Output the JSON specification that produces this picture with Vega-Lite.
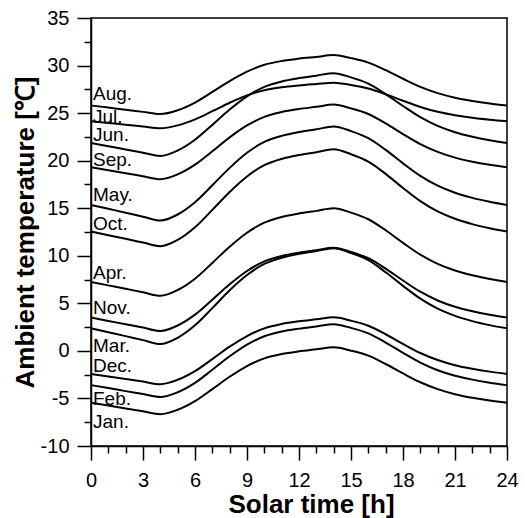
{
  "$schema": "https://vega.github.io/schema/vega-lite/v6.json",
  "width": 416,
  "height": 428,
  "autosize": {"type": "none"},
  "padding": {"left": 91, "top": 18, "right": 18, "bottom": 72},
  "background": "white",
  "config": {
    "view": {"stroke": "black", "strokeWidth": 1.5},
    "font": "Liberation Sans",
    "axis": {
      "grid": false,
      "domainColor": "black",
      "domainWidth": 1.5,
      "tickColor": "black",
      "tickWidth": 1.5,
      "labelColor": "black",
      "labelFont": "Liberation Sans",
      "labelFontSize": 20,
      "titleFont": "Liberation Sans",
      "titleColor": "black",
      "titleFontSize": 26,
      "titleFontWeight": "bold"
    }
  },
  "datasets": {
    "temps": [
      {"t": 0, "Aug": 25.8, "Jul": 24.15, "Jun": 21.85, "Sep": 19.3, "May": 15.35, "Oct": 12.55, "Apr": 7.25, "Nov": 3.5, "Mar": 2.37, "Dec": -2.42, "Feb": -3.6, "Jan": -5.45},
      {"t": 1, "Aug": 25.58, "Jul": 23.96, "Jun": 21.51, "Sep": 18.99, "May": 14.94, "Oct": 12.16, "Apr": 6.89, "Nov": 3.15, "Mar": 1.96, "Dec": -2.69, "Feb": -3.91, "Jan": -5.75},
      {"t": 2, "Aug": 25.35, "Jul": 23.78, "Jun": 21.18, "Sep": 18.68, "May": 14.53, "Oct": 11.78, "Apr": 6.53, "Nov": 2.8, "Mar": 1.55, "Dec": -2.96, "Feb": -4.23, "Jan": -6.05},
      {"t": 3, "Aug": 25.13, "Jul": 23.59, "Jun": 20.84, "Sep": 18.36, "May": 14.11, "Oct": 11.39, "Apr": 6.16, "Nov": 2.45, "Mar": 1.13, "Dec": -3.23, "Feb": -4.54, "Jan": -6.35},
      {"t": 4, "Aug": 24.9, "Jul": 23.4, "Jun": 20.5, "Sep": 18.05, "May": 13.7, "Oct": 11.0, "Apr": 5.8, "Nov": 2.1, "Mar": 0.72, "Dec": -3.5, "Feb": -4.85, "Jan": -6.65},
      {"t": 5, "Aug": 25.3, "Jul": 23.71, "Jun": 21.07, "Sep": 18.56, "May": 14.34, "Oct": 11.66, "Apr": 6.4, "Nov": 2.67, "Mar": 1.38, "Dec": -3.04, "Feb": -4.35, "Jan": -6.19},
      {"t": 6, "Aug": 26.11, "Jul": 24.34, "Jun": 22.2, "Sep": 19.58, "May": 15.63, "Oct": 12.99, "Apr": 7.59, "Nov": 3.81, "Mar": 2.69, "Dec": -2.13, "Feb": -3.36, "Jan": -5.28},
      {"t": 7, "Aug": 27.23, "Jul": 25.2, "Jun": 23.76, "Sep": 20.99, "May": 17.41, "Oct": 14.83, "Apr": 9.25, "Nov": 5.38, "Mar": 4.5, "Dec": -0.86, "Feb": -1.98, "Jan": -4.02},
      {"t": 8, "Aug": 28.37, "Jul": 26.09, "Jun": 25.37, "Sep": 22.45, "May": 19.24, "Oct": 16.71, "Apr": 10.95, "Nov": 7.0, "Mar": 6.37, "Dec": 0.44, "Feb": -0.57, "Jan": -2.72},
      {"t": 9, "Aug": 29.36, "Jul": 26.86, "Jun": 26.76, "Sep": 23.7, "May": 20.83, "Oct": 18.34, "Apr": 12.42, "Nov": 8.4, "Mar": 7.98, "Dec": 1.56, "Feb": 0.66, "Jan": -1.6},
      {"t": 10, "Aug": 30.08, "Jul": 27.41, "Jun": 27.76, "Sep": 24.61, "May": 21.97, "Oct": 19.52, "Apr": 13.48, "Nov": 9.41, "Mar": 9.14, "Dec": 2.37, "Feb": 1.54, "Jan": -0.79},
      {"t": 11, "Aug": 30.48, "Jul": 27.72, "Jun": 28.33, "Sep": 25.12, "May": 22.61, "Oct": 20.18, "Apr": 14.08, "Nov": 9.98, "Mar": 9.79, "Dec": 2.83, "Feb": 2.04, "Jan": -0.33},
      {"t": 12, "Aug": 30.73, "Jul": 27.91, "Jun": 28.68, "Sep": 25.43, "May": 23.01, "Oct": 20.59, "Apr": 14.45, "Nov": 10.33, "Mar": 10.2, "Dec": 3.11, "Feb": 2.34, "Jan": -0.05},
      {"t": 13, "Aug": 30.91, "Jul": 28.06, "Jun": 28.94, "Sep": 25.66, "May": 23.3, "Oct": 20.89, "Apr": 14.72, "Nov": 10.59, "Mar": 10.5, "Dec": 3.32, "Feb": 2.57, "Jan": 0.16},
      {"t": 14, "Aug": 31.1, "Jul": 28.2, "Jun": 29.2, "Sep": 25.9, "May": 23.6, "Oct": 21.2, "Apr": 15.0, "Nov": 10.85, "Mar": 10.8, "Dec": 3.53, "Feb": 2.8, "Jan": 0.37},
      {"t": 15, "Aug": 30.78, "Jul": 27.96, "Jun": 28.76, "Sep": 25.5, "May": 23.11, "Oct": 20.68, "Apr": 14.54, "Nov": 10.41, "Mar": 10.29, "Dec": 3.17, "Feb": 2.42, "Jan": 0.02},
      {"t": 16, "Aug": 30.31, "Jul": 27.59, "Jun": 28.1, "Sep": 24.91, "May": 22.36, "Oct": 19.9, "Apr": 13.84, "Nov": 9.75, "Mar": 9.54, "Dec": 2.64, "Feb": 1.84, "Jan": -0.5},
      {"t": 17, "Aug": 29.51, "Jul": 26.99, "Jun": 27.0, "Sep": 23.92, "May": 21.13, "Oct": 18.61, "Apr": 12.68, "Nov": 8.65, "Mar": 8.27, "Dec": 1.75, "Feb": 0.88, "Jan": -1.38},
      {"t": 18, "Aug": 28.61, "Jul": 26.3, "Jun": 25.75, "Sep": 22.8, "May": 19.72, "Oct": 17.13, "Apr": 11.36, "Nov": 7.4, "Mar": 6.84, "Dec": 0.73, "Feb": -0.21, "Jan": -2.37},
      {"t": 19, "Aug": 27.76, "Jul": 25.65, "Jun": 24.57, "Sep": 21.74, "May": 18.4, "Oct": 15.75, "Apr": 10.12, "Nov": 6.22, "Mar": 5.49, "Dec": -0.22, "Feb": -1.23, "Jan": -3.3},
      {"t": 20, "Aug": 27.1, "Jul": 25.14, "Jun": 23.65, "Sep": 20.92, "May": 17.37, "Oct": 14.67, "Apr": 9.15, "Nov": 5.3, "Mar": 4.44, "Dec": -0.96, "Feb": -2.03, "Jan": -4.02},
      {"t": 21, "Aug": 26.62, "Jul": 24.78, "Jun": 22.99, "Sep": 20.32, "May": 16.63, "Oct": 13.89, "Apr": 8.45, "Nov": 4.64, "Mar": 3.68, "Dec": -1.5, "Feb": -2.61, "Jan": -4.55},
      {"t": 22, "Aug": 26.28, "Jul": 24.51, "Jun": 22.51, "Sep": 19.89, "May": 16.09, "Oct": 13.33, "Apr": 7.95, "Nov": 4.16, "Mar": 3.13, "Dec": -1.88, "Feb": -3.02, "Jan": -4.93},
      {"t": 23, "Aug": 26.01, "Jul": 24.31, "Jun": 22.14, "Sep": 19.56, "May": 15.68, "Oct": 12.9, "Apr": 7.56, "Nov": 3.79, "Mar": 2.71, "Dec": -2.18, "Feb": -3.34, "Jan": -5.22},
      {"t": 24, "Aug": 25.8, "Jul": 24.15, "Jun": 21.85, "Sep": 19.3, "May": 15.35, "Oct": 12.55, "Apr": 7.25, "Nov": 3.5, "Mar": 2.37, "Dec": -2.42, "Feb": -3.6, "Jan": -5.45}
    ],
    "labels": [
      {"label": "Aug.", "t": 0, "y": 27.0},
      {"label": "Jul.", "t": 0, "y": 24.56},
      {"label": "Jun.", "t": 0, "y": 22.66},
      {"label": "Sep.", "t": 0, "y": 20.08},
      {"label": "May.", "t": 0, "y": 16.35},
      {"label": "Oct.", "t": 0, "y": 13.3},
      {"label": "Apr.", "t": 0, "y": 8.16},
      {"label": "Nov.", "t": 0, "y": 4.56},
      {"label": "Mar.", "t": 0, "y": 0.56},
      {"label": "Dec.", "t": 0, "y": -1.55},
      {"label": "Feb.", "t": 0, "y": -5.02},
      {"label": "Jan.", "t": 0, "y": -7.44}
    ]
  },
  "layer": [
    {
      "data": {"name": "temps"},
      "transform": [
        {"fold": ["Aug", "Jul", "Jun", "Sep", "May", "Oct", "Apr", "Nov", "Mar", "Dec", "Feb", "Jan"], "as": ["month", "T"]}
      ],
      "mark": {"type": "line", "color": "black", "strokeWidth": 2, "interpolate": "monotone"},
      "encoding": {
        "x": {
          "field": "t", "type": "quantitative",
          "scale": {"domain": [0, 24], "nice": false, "zero": false},
          "axis": {
            "orient": "bottom",
            "values": [0, 3, 6, 9, 12, 15, 18, 21, 24],
            "tickSize": 14,
            "labelPadding": 10,
            "labelFlush": false,
            "title": "Solar time [h]",
            "titleX": 220,
            "titleAlign": "center",
            "titleY": 66,
            "titleBaseline": "alphabetic"
          }
        },
        "y": {
          "field": "T", "type": "quantitative",
          "scale": {"domain": [-10, 35], "nice": false, "zero": false},
          "axis": {
            "orient": "left",
            "values": [-10, -5, 0, 5, 10, 15, 20, 25, 30, 35],
            "tickSize": 14,
            "labelExpr": "datum.value < 0 ? '-' + abs(datum.value) : '' + datum.value",
            "labelPadding": 8,
            "labelFlush": false,
            "title": "Ambient temperature [℃]",
            "titleX": -58,
            "titleBaseline": "alphabetic"
          }
        },
        "detail": {"field": "month"}
      }
    },
    {
      "data": {"name": "labels"},
      "mark": {"type": "text", "align": "left", "baseline": "middle", "dx": 2, "fontSize": 19, "font": "Liberation Sans", "color": "black"},
      "encoding": {
        "x": {"field": "t", "type": "quantitative", "axis": null},
        "y": {"field": "y", "type": "quantitative", "axis": null},
        "text": {"field": "label"}
      }
    },
    {
      "data": {"name": "temps"},
      "mark": {"type": "point", "opacity": 0},
      "encoding": {
        "x": {
          "field": "t", "type": "quantitative",
          "axis": {
            "orient": "bottom",
            "values": [1, 2, 4, 5, 7, 8, 10, 11, 13, 14, 16, 17, 19, 20, 22, 23],
            "tickSize": 7,
            "labels": false,
            "domain": false,
            "title": null,
            "offset": 0
          }
        },
        "y": {
          "field": "Aug", "type": "quantitative",
          "axis": {
            "orient": "left",
            "values": [-7.5, -2.5, 2.5, 7.5, 12.5, 17.5, 22.5, 27.5, 32.5],
            "tickSize": 7,
            "labels": false,
            "domain": false,
            "title": null,
            "offset": 0
          }
        }
      }
    }
  ],
  "resolve": {"axis": {"x": "independent", "y": "independent"}}
}
